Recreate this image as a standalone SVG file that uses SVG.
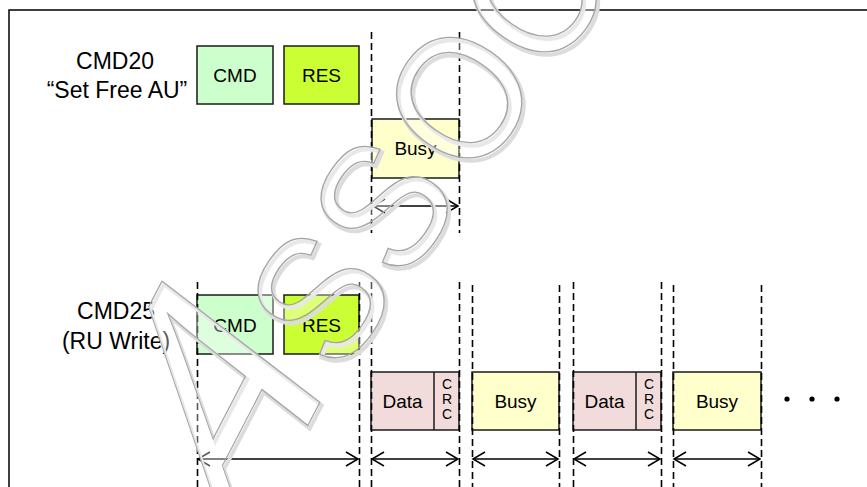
<svg xmlns="http://www.w3.org/2000/svg" xmlns:xlink="http://www.w3.org/1999/xlink" width="867" height="487" viewBox="0 0 867 487">
<defs>
<marker id="ah" markerUnits="userSpaceOnUse" markerWidth="16" markerHeight="16" refX="12" refY="7" orient="auto-start-reverse" overflow="visible">
<path d="M0,0 L12,7 L0,14" fill="none" stroke="#000" stroke-width="1.5"/>
</marker>
<g id="wmText">
<text class="wm" vector-effect="non-scaling-stroke" transform="matrix(1.26,-2.43,1.788,2.739,236,564)" x="0" y="0">A</text>
<g transform="translate(318,296) matrix(0.935,-1.335,1.458,1.021,0,0)"><text class="wm" vector-effect="non-scaling-stroke" text-anchor="middle" x="0" y="36">S</text></g>
<g transform="translate(381,204) matrix(0.935,-1.335,1.458,1.021,0,0)"><text class="wm" vector-effect="non-scaling-stroke" text-anchor="middle" x="0" y="36">S</text></g>
<g transform="translate(457,96) matrix(0.935,-1.335,1.458,1.021,0,0)"><text class="wm" vector-effect="non-scaling-stroke" text-anchor="middle" x="0" y="36">O</text></g>
<g transform="translate(530,-6) matrix(0.935,-1.335,1.458,1.021,0,0)"><text class="wm" vector-effect="non-scaling-stroke" text-anchor="middle" x="0" y="36">C</text></g>
</g>
</defs>
<style>
.lbl{font-family:"Liberation Sans",Arial,sans-serif;font-size:23px;fill:#000;text-anchor:middle}
.bt{font-family:"Liberation Sans",Arial,sans-serif;font-size:19px;fill:#000;text-anchor:middle}
.crc{font-family:"Liberation Sans",Arial,sans-serif;font-size:14px;fill:#000;text-anchor:middle}
.box{stroke:#1a1a1a;stroke-width:1.5}
.cmd{fill:#ccffcc}.res{fill:#ccff33}.busy{fill:#ffffcc}.data{fill:#f2dcdb}
.dash{stroke:#000;stroke-width:1.6;stroke-dasharray:7 4;fill:none}
.arr{stroke:#000;stroke-width:1.5;fill:none;marker-start:url(#ah);marker-end:url(#ah)}
.wm{font-family:"Liberation Sans",Arial,sans-serif;font-size:100px}
</style>
<rect width="867" height="487" fill="#fff"/>
<g id="frame" stroke="#000" stroke-width="1.5" fill="none">
<path d="M9,487 V10 H867"/>
</g>
<g id="labels">
<text class="lbl" x="115" y="69">CMD20</text>
<text class="lbl" x="117" y="98">“Set Free AU”</text>
<text class="lbl" x="116" y="319">CMD25</text>
<text class="lbl" x="116" y="349">(RU Write)</text>
</g>
<g id="cmd20-cmd"><rect class="box cmd" x="197" y="46" width="76" height="58"/><text class="bt" x="235" y="82">CMD</text></g>
<g id="cmd20-res"><rect class="box res" x="284" y="46" width="75" height="58"/><text class="bt" x="321.5" y="82">RES</text></g>
<g id="cmd20-busy"><rect class="box busy" x="372" y="119" width="87" height="59"/><text class="bt" x="415.5" y="155">Busy</text></g>
<g id="cmd25-cmd"><rect class="box cmd" x="197" y="295" width="76" height="59"/><text class="bt" x="235" y="332">CMD</text></g>
<g id="cmd25-res"><rect class="box res" x="284" y="295" width="75" height="59"/><text class="bt" x="321.5" y="332">RES</text></g>
<g id="data1"><rect class="box data" x="371" y="372" width="88" height="58"/><line class="box" x1="434" y1="372" x2="434" y2="430"/><text class="bt" x="402.5" y="408">Data</text><text class="crc" x="447" y="389">C</text><text class="crc" x="447" y="404">R</text><text class="crc" x="447" y="419">C</text></g>
<g id="busy1"><rect class="box busy" x="472" y="372" width="87" height="58"/><text class="bt" x="515.5" y="408">Busy</text></g>
<g id="data2"><rect class="box data" x="573" y="372" width="88" height="58"/><line class="box" x1="636" y1="372" x2="636" y2="430"/><text class="bt" x="604.5" y="408">Data</text><text class="crc" x="649" y="389">C</text><text class="crc" x="649" y="404">R</text><text class="crc" x="649" y="419">C</text></g>
<g id="busy2"><rect class="box busy" x="673" y="372" width="88" height="58"/><text class="bt" x="717" y="408">Busy</text></g>
<g id="dots" fill="#000"><circle cx="787" cy="399" r="2.6"/><circle cx="812" cy="399" r="2.6"/><circle cx="837" cy="399" r="2.6"/></g>
<g id="connectors">
<path class="dash" d="M371.5,32 V233 M459.5,32 V233"/>
<path class="dash" d="M197.5,282 V487 M359.5,282 V487 M371.5,282 V487 M459.5,282 V487 M472.5,285 V487 M559.5,285 V487 M573.5,282 V487 M661.5,282 V487 M673.5,285 V487 M761.5,285 V487"/>
<line class="arr" x1="373" y1="206" x2="458" y2="206"/>
<line class="arr" x1="198" y1="459" x2="358" y2="459"/>
<line class="arr" x1="372" y1="459" x2="458" y2="459"/>
<line class="arr" x1="473" y1="459" x2="558" y2="459"/>
<line class="arr" x1="574" y1="459" x2="660" y2="459"/>
<line class="arr" x1="674" y1="459" x2="760" y2="459"/>
</g>
<g id="watermark">
<use xlink:href="#wmText" transform="translate(2,3)" fill="none" stroke="#dcdcdc" stroke-width="4"/>
<use xlink:href="#wmText" fill="#fff" fill-opacity="0.35" stroke="#a5a5a5" stroke-width="1.3"/>
</g>
</svg>
